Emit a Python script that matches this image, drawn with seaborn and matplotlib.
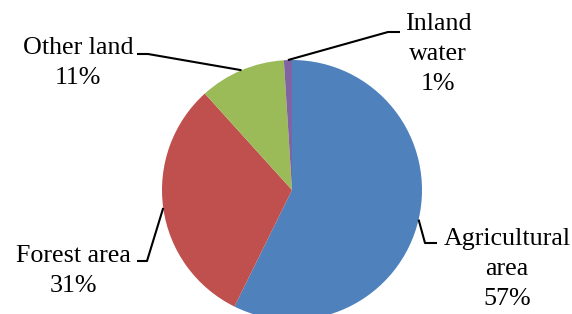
import numpy as np
import matplotlib
matplotlib.use("Agg")
import matplotlib.pyplot as plt
import seaborn as sns

# --- data ---
categories = ["Agricultural\narea", "Forest area", "Other land", "Inland\nwater"]
shares = [57.3, 31.0, 10.7, 1.0]
colors = ["#4F81BD", "#C0504D", "#9BBB59", "#8064A2"]

# --- layout (pixels, y measured from the top of the image) ---
W, H = 572, 314
pie_center = (292, 190)
pie_radius = 130
label_xy = [(507, 269), (73, 271), (78, 63), (438, 54)]
elbow_xy = [(425, 243), (147, 261), (148, 54), (388, 32)]
end_xy = [(437, 243), (137, 261), (137, 54), (400, 32)]

sns.set_theme(style="white")
plt.rcParams["font.family"] = ["Liberation Serif", "DejaVu Serif"]

fig = plt.figure(figsize=(W / 100, H / 100), dpi=100)
ax = fig.add_axes([0, 0, 1, 1])

def up(y):
    return H - y

cx, cy = pie_center[0], up(pie_center[1])
wedges, _ = ax.pie(shares, colors=colors, startangle=90, counterclock=False,
                   center=(cx, cy), radius=pie_radius,
                   wedgeprops=dict(linewidth=0))
ax.set_xlim(0, W)
ax.set_ylim(0, H)
ax.set_aspect("equal")
ax.axis("off")

for i, w in enumerate(wedges):
    mid = np.deg2rad((w.theta1 + w.theta2) / 2)
    ax_x = cx + pie_radius * np.cos(mid)
    ax_y = cy + pie_radius * np.sin(mid)
    xs = [ax_x, elbow_xy[i][0], end_xy[i][0]]
    ys = [ax_y, up(elbow_xy[i][1]), up(end_xy[i][1])]
    ax.plot(xs, ys, color="black", lw=1.5, solid_capstyle="butt")
    txt = f"{categories[i]}\n{round(shares[i])}%"
    ax.text(label_xy[i][0], up(label_xy[i][1]), txt, ha="center", va="center",
            fontsize=18.7, color="black", linespacing=1.45)

fig.savefig("out.png", dpi=100)
